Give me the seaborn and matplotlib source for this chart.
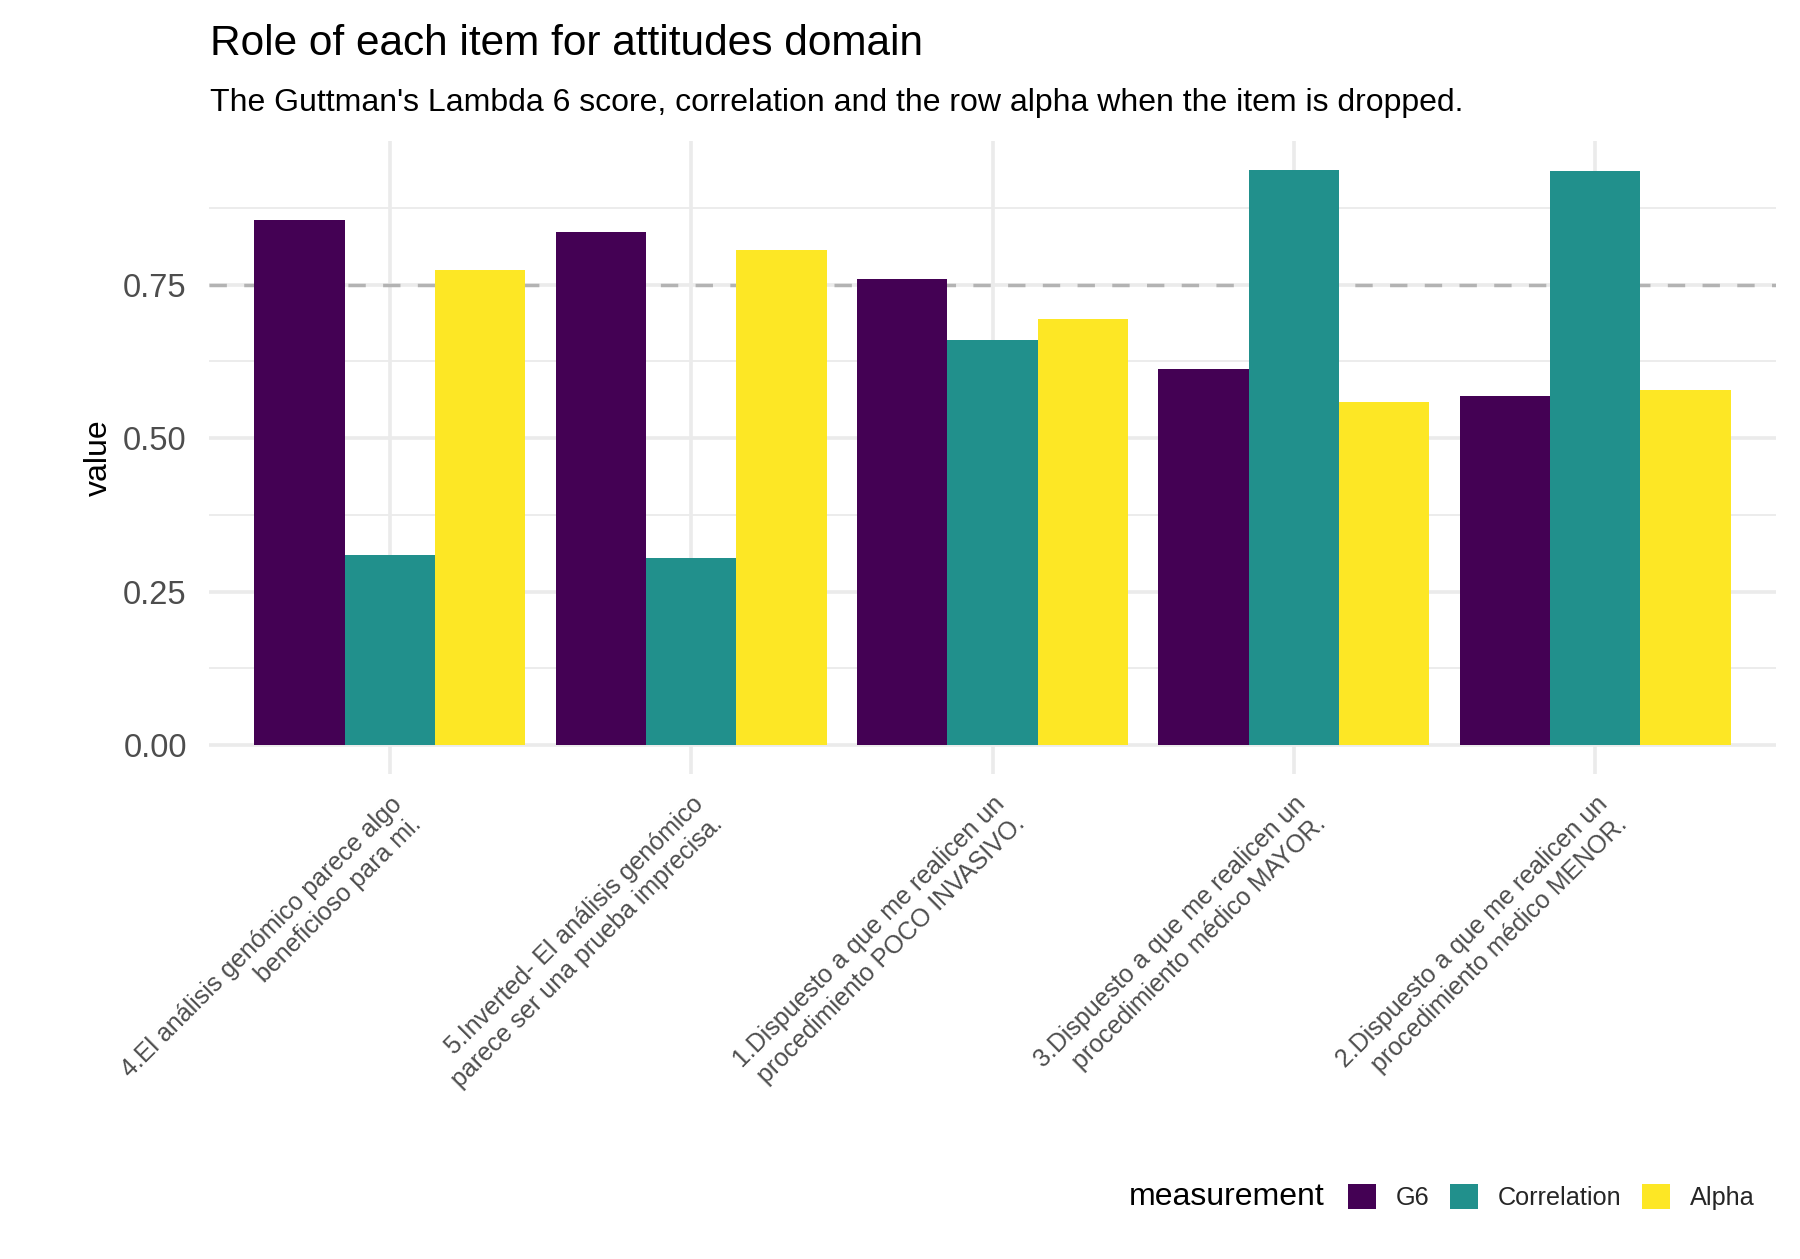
import matplotlib
matplotlib.use("Agg")
import matplotlib.pyplot as plt
from matplotlib.patches import Patch
from matplotlib.ticker import MultipleLocator
import seaborn as sns
import pandas as pd

sns.set_theme(style="white")
plt.rcParams['font.family'] = ['Liberation Sans', 'DejaVu Sans']

items = [
    "4.El análisis genómico parece algo\nbeneficioso para mi.",
    "5.Inverted- El análisis genómico\nparece ser una prueba imprecisa.",
    "1.Dispuesto a que me realicen un\nprocedimiento POCO INVASIVO.",
    "3.Dispuesto a que me realicen un\nprocedimiento médico MAYOR.",
    "2.Dispuesto a que me realicen un\nprocedimiento médico MENOR.",
]
measurements = ["G6", "Correlation", "Alpha"]
g6 = [0.855, 0.836, 0.759, 0.613, 0.569]
correlation = [0.309, 0.305, 0.660, 0.937, 0.935]
alpha = [0.774, 0.806, 0.694, 0.559, 0.578]
colors = ["#440154", "#21908C", "#FDE725"]
threshold = 0.75
yticks = [0.0, 0.25, 0.5, 0.75]
ytick_labels = ["0.00", "0.25", "0.50", "0.75"]

df = pd.DataFrame({
    "item": items * 3,
    "measurement": [m for m in measurements for _ in items],
    "value": g6 + correlation + alpha,
})

fig = plt.figure(figsize=(18, 12.59), dpi=100)
ax = fig.add_axes([0.1161, 0.3853, 0.8706, 0.5027])

sns.barplot(data=df, x="item", y="value", hue="measurement", order=items,
            hue_order=measurements, palette=colors, width=0.9, errorbar=None,
            linewidth=0, saturation=1, legend=False, ax=ax, zorder=3)

ymax = max(g6 + correlation + alpha)
ax.set_ylim(-0.05 * ymax, ymax * 1.05)
ax.set_xlim(-0.6, len(items) - 0.4)

ax.set_yticks(yticks)
ax.set_yticklabels(ytick_labels)
ax.yaxis.set_minor_locator(MultipleLocator(0.125))
ax.grid(which="major", axis="both", color="#EBEBEB", linewidth=2.6, zorder=0)
ax.grid(which="minor", axis="y", color="#EBEBEB", linewidth=1.3, zorder=0)
ax.set_axisbelow(True)
for s in ax.spines.values():
    s.set_visible(False)

ax.axhline(threshold, color="#B3B3B3", linewidth=2.5, linestyle=(0, (5, 5)), zorder=2)

ax.tick_params(axis="y", length=0, pad=16, labelsize=23.5, labelcolor="#4D4D4D")
ax.tick_params(axis="x", which="both", length=0, pad=13, labelsize=18, labelcolor="#4D4D4D")
ax.tick_params(axis="y", which="minor", length=0)
for lab in ax.get_xticklabels():
    lab.set_rotation(45)
    lab.set_ha("right")
    lab.set_va("top")
    lab.set_rotation_mode("anchor")
    lab.set_multialignment("right")

ax.set_xlabel("")
ax.set_ylabel("value", fontsize=23, color="black", labelpad=7)

fig.text(0.1167, 0.956, "Role of each item for attitudes domain", fontsize=30.5,
         ha="left", va="baseline", color="black")
fig.text(0.1167, 0.912,
         "The Guttman's Lambda 6 score, correlation and the row alpha when the item is dropped.",
         fontsize=23, ha="left", va="baseline", color="black")

fig.text(0.6272, 0.049, "measurement", fontsize=23, ha="left", va="center", color="black")
handles = [Patch(facecolor=c, edgecolor="none", label=m) for c, m in zip(colors, measurements)]
fig.legend(handles=handles, loc="center left", bbox_to_anchor=(0.7488, 0.049), ncol=3,
           frameon=False, fontsize=18.2, handlelength=1.1, handleheight=1.15,
           handletextpad=0.8, columnspacing=0.8, borderpad=0, borderaxespad=0)

fig.savefig("out.png", dpi=100, facecolor="white")
